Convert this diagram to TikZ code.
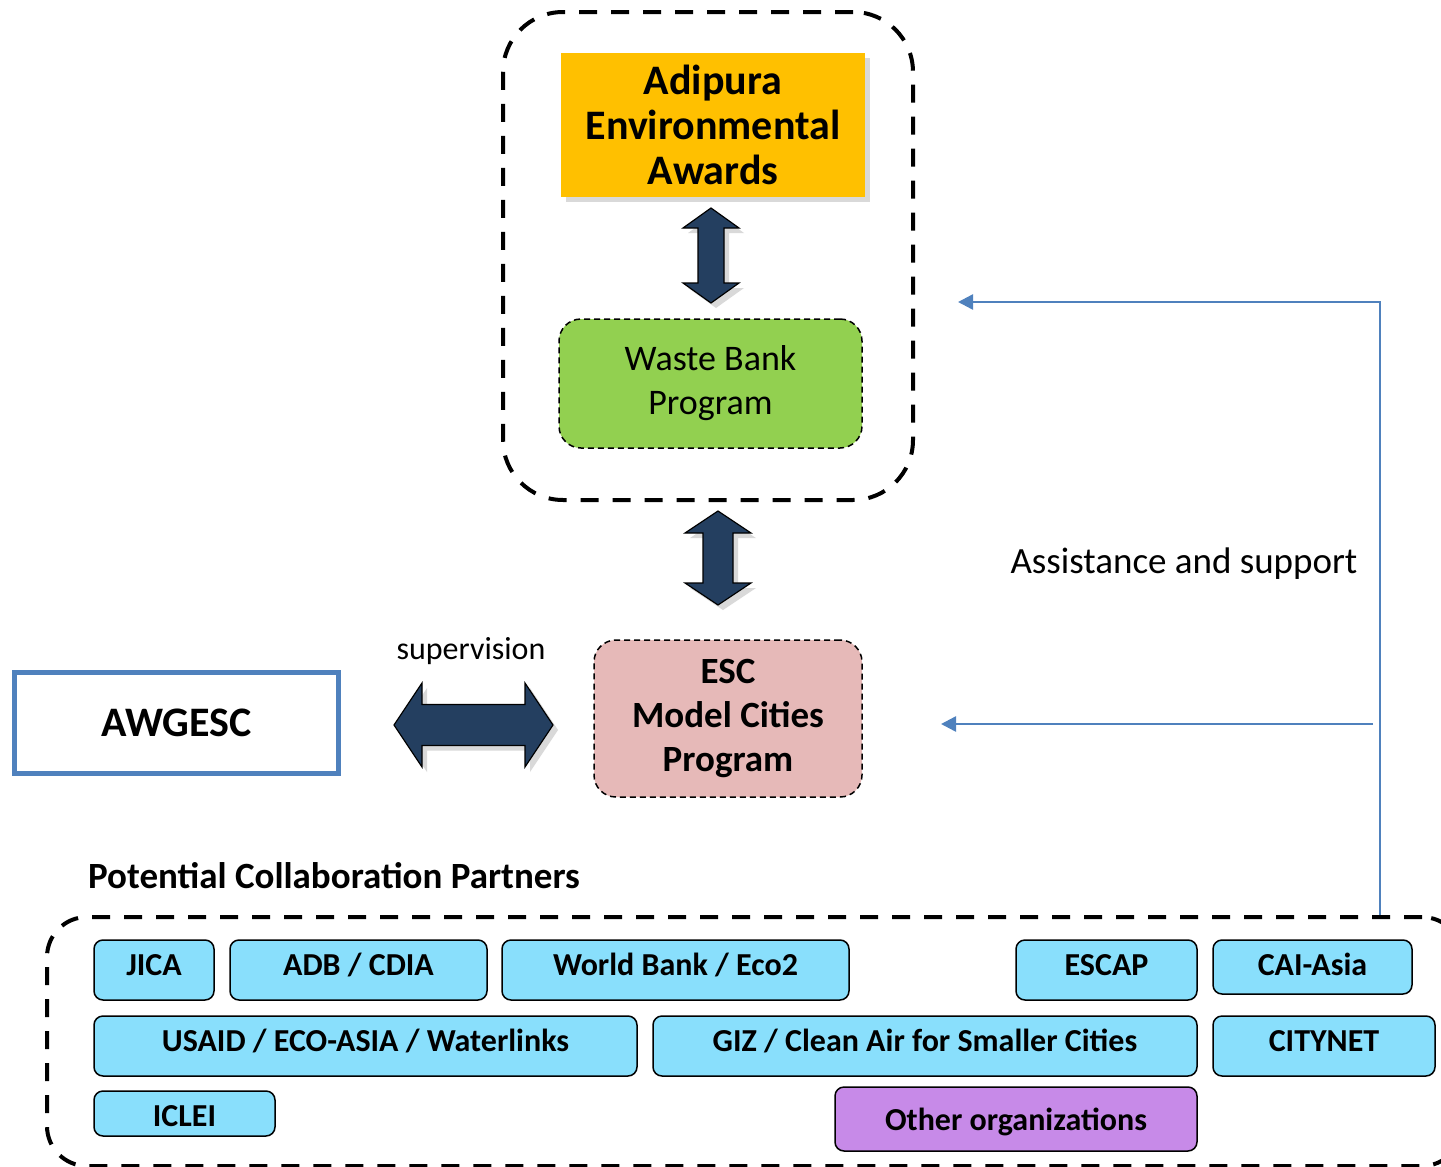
\documentclass[tikz,border=0pt]{standalone}
\usepackage{fontspec}
\setmainfont{Carlito}
\usetikzlibrary{arrows.meta, shadows}

\definecolor{awardorange}{HTML}{FFC000}
\definecolor{bankgreen}{HTML}{92D050}
\definecolor{escpink}{HTML}{E6B9B8}
\definecolor{arrownavy}{HTML}{243F60}
\definecolor{supportblue}{HTML}{4F81BD}
\definecolor{partnercyan}{HTML}{89DFFC}
\definecolor{otherpurple}{HTML}{C78AE8}

\tikzset{
    group dash/.style = {draw = black, line width = 4pt, dash pattern = on 18pt off 14pt, rounded corners = 60pt, inner sep = 0pt},
    program box/.style = {draw = black, line width = 1.5pt, dash pattern = on 6pt off 4pt, rounded corners = 22pt, inner sep = 0pt, align = center},
    partner box/.style = {draw = black, line width = 1.5pt, rounded corners = 9pt, fill = partnercyan, inner sep = 0pt,
                          text height = 22pt, text depth = 11.4pt, font = \fontsize{32}{36}\selectfont\bfseries},
    block arrow/.style = {draw = black, line width = 1.2pt, fill = arrownavy, drop shadow = {shadow xshift = 5pt, shadow yshift = -5pt, opacity = 0.3}},
    support line/.style = {draw = supportblue, line width = 2.5pt, -{Triangle[length = 15pt, width = 15pt]}},
}

% tip, length, half head, half shaft, head length
\newcommand{\vdoublearrow}[5]{%
    \draw [block arrow] #1 -- ++(#3, #5) -- ++(-#3 + #4, 0) -- ++(0, #2 - 2 * #5) -- ++(#3 - #4, 0) -- ++(-#3, #5)
        -- ++(-#3, -#5) -- ++(#3 - #4, 0) -- ++(0, -#2 + 2 * #5) -- ++(-#3 + #4, 0) -- cycle;}
\newcommand{\hdoublearrow}[5]{%
    \draw [block arrow] #1 -- ++(#5, -#3) -- ++(0, #3 - #4) -- ++(#2 - 2 * #5, 0) -- ++(0, -#3 + #4) -- ++(#5, #3)
        -- ++(-#5, #3) -- ++(0, -#3 + #4) -- ++(-#2 + 2 * #5, 0) -- ++(0, #3 - #4) -- cycle;}

\begin{document}
\begin{tikzpicture}[x = 1pt, y = -1pt]

    \useasboundingbox (0, 0) rectangle (1441, 1167);

    % upper group
    \node [group dash, minimum width = 410pt, minimum height = 488pt] (upper group) at (708, 256) {};
    \node [fill = awardorange, minimum width = 304pt, minimum height = 144pt, inner sep = 0pt, align = center,
           drop shadow = {shadow xshift = 5pt, shadow yshift = -5pt, opacity = 0.3},
           font = \fontsize{42}{45}\selectfont\bfseries] (adipura) at (713, 125) {Adipura\\Environmental\\Awards};
    \node [program box, fill = bankgreen, minimum width = 303pt, minimum height = 129pt,
           font = \fontsize{36}{44}\selectfont] (waste bank) at (710.5, 383.5) {Waste Bank\\Program};
    \vdoublearrow{(711, 208)}{95}{28}{13}{20}

    % model cities
    \vdoublearrow{(718, 511)}{94}{33}{15}{22}
    \node [program box, fill = escpink, minimum width = 268pt, minimum height = 157pt,
           font = \fontsize{37}{44}\selectfont\bfseries] (esc) at (728, 718.5) {ESC\\Model Cities\\Program};
    \node [draw = supportblue, line width = 5pt, fill = white, minimum width = 324pt, minimum height = 101pt,
           font = \fontsize{42}{46}\selectfont\bfseries] (awgesc) at (176.5, 723) {AWGESC};
    \hdoublearrow{(394, 725)}{159}{42}{20.5}{28}
    \node [font = \fontsize{32}{36}\selectfont] (supervision) at (471, 651) {supervision};

    % assistance and support
    \node [font = \fontsize{37}{42}\selectfont] (assistance) at (1184, 564) {Assistance and support};
    \coordinate (support foot) at (1380, 917);
    \coordinate (upper tip) at (958, 302);
    \coordinate (support branch) at (1373, 724);
    \coordinate (esc tip) at (941, 724);
    \draw [support line] (support foot) |- (upper tip);
    \draw [support line] (support branch) -- (esc tip);

    % partners
    \node [font = \fontsize{37}{42}\selectfont\bfseries] (partners title) at (334, 876) {Potential Collaboration Partners};
    \node [group dash, rounded corners = 40pt, minimum width = 1415pt, minimum height = 249pt] (partners) at (754.5, 1041.5) {};

    \node [partner box, minimum width = 120pt, minimum height = 60pt] (jica)     at (154, 970)    {JICA};
    \node [partner box, minimum width = 257pt, minimum height = 60pt] (adb)      at (358.5, 970)  {ADB / CDIA};
    \node [partner box, minimum width = 347pt, minimum height = 60pt] (worldbank) at (675.5, 970) {World Bank / Eco2};
    \node [partner box, minimum width = 181pt, minimum height = 60pt] (escap)    at (1106.5, 970) {ESCAP};
    \node [partner box, minimum width = 199pt, minimum height = 54pt, text depth = 5pt] (caiasia) at (1312.5, 967) {CAI-Asia};
    \node [partner box, minimum width = 543pt, minimum height = 60pt] (usaid)    at (365.5, 1046) {USAID / ECO-ASIA / Waterlinks};
    \node [partner box, minimum width = 544pt, minimum height = 60pt] (giz)      at (925, 1046)   {GIZ / Clean Air for Smaller Cities};
    \node [partner box, minimum width = 222pt, minimum height = 60pt] (citynet)  at (1324, 1046)  {CITYNET};
    \node [partner box, minimum width = 181pt, minimum height = 45pt, text height = 26.6pt, text depth = 0pt] (iclei) at (184.5, 1113.5) {ICLEI};
    \node [partner box, fill = otherpurple, minimum width = 362pt, minimum height = 64pt, text depth = 0pt] (other) at (1016, 1119) {Other organizations};

\end{tikzpicture}
\end{document}
